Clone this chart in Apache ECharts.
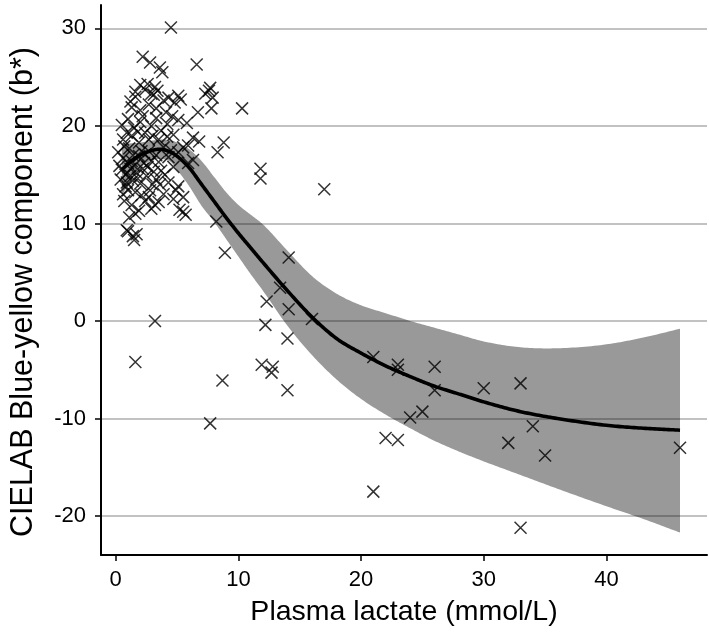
<!DOCTYPE html>
<html><head><meta charset="utf-8">
<script src="https://cdn.jsdelivr.net/npm/echarts@6/dist/echarts.min.js"></script>
<style>html,body{margin:0;padding:0;background:#fff}#c{width:709px;height:638px}</style>
</head><body><div id="c"></div>
<script>
// Tick labels
const xTicks = [0, 10, 20, 30, 40];
const yTicks = [-20, -10, 0, 10, 20, 30];

// Observations: plasma lactate (mmol/L) and CIELAB b*
const lactate = [
  4.5,2.2,2.8,3.6,3.8,6.6,2.0,1.6,2.4,3.2,2.9,5.1,1.2,7.7,7.3,7.6,7.9,7.8,10.3,6.7,
  1.6,2.6,3.1,3.4,3.9,4.3,4.8,5.3,1.3,2.0,2.7,3.3,4.1,4.6,
  0.5,1.0,1.5,2.0,2.4,2.9,3.3,3.7,4.2,4.7,5.1,5.8,6.3,6.8,0.6,1.3,2.7,3.5,4.2,5.9,1.9,3.0,
  0.2,0.6,1.1,1.5,1.9,2.3,2.7,3.1,3.5,3.9,4.3,4.7,5.1,5.5,5.9,6.3,0.5,0.8,1.3,1.7,2.1,2.5,2.9,3.7,1.0,2.4,3.3,4.5,8.8,8.3,
  0.4,0.8,1.2,1.6,2.0,2.4,2.8,3.3,3.9,4.3,4.7,5.1,5.5,1.0,2.1,2.7,3.5,1.3,1.6,1.9,2.9,3.2,4.9,5.5,5.2,5.7,0.6,1.4,3.6,4.0,
  0.7,1.2,0.9,1.4,0.3,1.8,0.7,1.1,2.2,2.6,3.0,1.8,2.2,0.9,
  1.0,1.4,1.5,1.7,0.9,
  11.8,11.8,8.2,17.0,8.9,3.2,1.6,8.7,7.7,14.1,13.4,12.3,14.1,16.0,12.2,14.0,11.9,12.8,12.7,14.0,
  21.0,23.0,23.0,26.0,26.0,30.0,24.0,25.0,22.0,23.0,21.0,33.0,34.0,32.0,35.0,46.0,33.0
];
const bStar = [
  30.1,27.1,26.5,26.0,25.5,26.3,24.2,23.5,23.7,24.0,23.3,23.1,22.5,23.9,23.3,23.6,22.9,21.8,21.8,21.4,
  23.0,24.3,23.2,23.6,22.6,22.9,22.4,22.7,21.9,21.6,22.2,21.8,21.4,21.0,
  20.1,20.7,19.8,20.4,19.3,20.0,20.8,19.5,20.2,19.1,20.6,20.3,18.8,18.4,18.6,19.0,18.6,18.6,18.9,18.0,18.3,19.0,
  17.3,16.7,17.7,15.9,16.9,16.2,17.4,15.3,16.3,17.8,16.8,15.8,17.3,17.8,16.2,16.5,15.5,15.0,16.4,15.2,17.4,14.9,16.4,15.4,16.2,17.1,17.0,17.5,18.3,17.3,
  14.5,13.8,14.9,13.2,14.1,12.3,13.4,14.5,13.0,14.2,12.5,13.8,11.2,13.4,12.9,12.7,12.2,11.9,11.0,11.3,11.5,11.9,13.4,12.7,11.4,10.9,13.0,14.4,14.0,15.0,
  17.9,15.6,14.2,17.0,15.9,14.6,12.3,10.6,15.6,15.8,14.0,19.4,21.0,19.3,
  9.2,8.7,8.3,8.9,9.3,
  15.6,14.6,10.2,13.5,7.0,0.0,-4.2,-6.1,-10.5,6.5,3.4,2.0,1.2,0.2,-0.4,-1.8,-4.5,-4.7,-5.3,-7.1,
  -3.7,-4.5,-5.0,-4.7,-7.1,-6.9,-9.9,-9.3,-12.0,-12.2,-17.5,-6.4,-10.8,-12.5,-13.8,-13.0,-21.2
];

// Fitted curve and confidence band
const fitX   = [0.5, 1, 2, 3, 3.7, 4.5, 5, 6, 7, 8, 9, 10, 11, 12, 14, 16, 18, 20, 22, 24, 26, 28, 30, 33, 36, 40, 43, 46];
const fitY   = [15.5,16.1,17.0,17.5,17.6,17.3,16.9,15.7,14.0,12.3,10.6,9.0,7.5,6.0,3.1,0.4,-1.8,-3.3,-4.6,-5.7,-6.7,-7.5,-8.3,-9.3,-10.0,-10.7,-11.0,-11.2];
const ciHigh = [18.2,18.2,18.3,18.5,18.6,18.5,18.3,17.6,16.4,14.8,13.2,11.9,10.9,9.9,7.2,4.6,2.8,1.6,0.8,0.0,-0.7,-1.4,-2.1,-2.7,-2.8,-2.4,-1.7,-0.8];
const ciLow  = [12.8,14.0,15.7,16.5,16.6,16.3,15.5,13.8,11.8,10.2,8.4,6.6,4.8,3.1,-0.5,-3.5,-6.0,-8.0,-9.6,-11.0,-12.3,-13.4,-14.4,-15.8,-17.2,-19.0,-20.3,-21.7];

const FONT = '"Liberation Sans", Arial, sans-serif';
const pts = lactate.map((x, i) => [x, bStar[i]]);

// Cubic Hermite smoothing in pixel space, parametrised by x (drawing only)
function smoothPts(p) {
  const n = p.length, m = [];
  for (let i = 0; i < n; i++) {
    const sl = i > 0 ? (p[i][1] - p[i - 1][1]) / (p[i][0] - p[i - 1][0]) : null;
    const sr = i < n - 1 ? (p[i + 1][1] - p[i][1]) / (p[i + 1][0] - p[i][0]) : null;
    m.push(sl === null ? sr : sr === null ? sl : (sl + sr) / 2);
  }
  const out = [];
  for (let i = 0; i < n - 1; i++) {
    const h = p[i + 1][0] - p[i][0];
    const steps = 16;
    for (let k = 0; k < steps; k++) {
      const t = k / steps, t2 = t * t, t3 = t2 * t;
      const y = (2 * t3 - 3 * t2 + 1) * p[i][1] + (t3 - 2 * t2 + t) * h * m[i] +
                (-2 * t3 + 3 * t2) * p[i + 1][1] + (t3 - t2) * h * m[i + 1];
      out.push([p[i][0] + t * h, y]);
    }
  }
  out.push(p[n - 1]);
  return out;
}

const chart = echarts.init(document.getElementById('c'), null, {renderer: 'canvas'});
chart.setOption({
  animation: false,
  backgroundColor: '#fff',
  grid: {left: 97, right: 2, top: 5, bottom: 83, containLabel: false},
  xAxis: {
    type: 'value', min: -1.2, max: 48.2,
    name: 'Plasma lactate (mmol/L)', nameLocation: 'middle', nameGap: 43,
    nameTextStyle: {fontFamily: FONT, fontSize: 28.5, color: '#000'},
    axisLine: {show: true, onZero: false, lineStyle: {color: '#000', width: 2}},
    axisTick: {show: true, length: 6, lineStyle: {color: '#000', width: 1.5}, customValues: xTicks},
    axisLabel: {fontFamily: FONT, fontSize: 22, color: '#000', margin: 14, customValues: xTicks},
    splitLine: {show: false}
  },
  yAxis: {
    type: 'value', min: -24, max: 32.4,
    name: 'CIELAB Blue-yellow component (b*)', nameLocation: 'middle', nameGap: 62,
    nameTextStyle: {fontFamily: FONT, fontSize: 30.5, color: '#000', padding: [0, 24, 0, 0]},
    axisLine: {show: true, onZero: false, lineStyle: {color: '#000', width: 2}},
    axisTick: {show: true, length: 6, lineStyle: {color: '#000', width: 1.5}, customValues: yTicks},
    axisLabel: {fontFamily: FONT, fontSize: 22, color: '#000', margin: 15, customValues: yTicks},
    splitLine: {show: true, lineStyle: {color: '#c2c2c2', width: 2}}
  },
  series: [
    {type: 'custom', coordinateSystem: 'cartesian2d', data: [[fitX[0], ciLow[0]]], silent: true, z: 2,
     renderItem: function (params, api) {
       const up = fitX.map((x, i) => api.coord([x, ciHigh[i]]));
       const lo = fitX.map((x, i) => api.coord([x, ciLow[i]]));
       const poly = smoothPts(up).concat(smoothPts(lo).reverse());
       return {type: 'polygon', shape: {points: poly}, style: {fill: 'rgba(0,0,0,0.4)', stroke: null}};
     }},
    {type: 'scatter', data: pts, symbol: 'path://M0,0L10,10M10,0L0,10', symbolSize: 12,
     itemStyle: {color: 'rgba(0,0,0,0)', borderColor: '#000', borderWidth: 1.5}, z: 3},
    {type: 'custom', coordinateSystem: 'cartesian2d', data: [[fitX[0], fitY[0]]], silent: true, z: 4,
     renderItem: function (params, api) {
       const line = smoothPts(fitX.map((x, i) => api.coord([x, fitY[i]])));
       return {type: 'polyline', shape: {points: line}, style: {stroke: '#000', lineWidth: 3.6, fill: null, lineJoin: 'round'}};
     }}
  ]
});
</script></body></html>
